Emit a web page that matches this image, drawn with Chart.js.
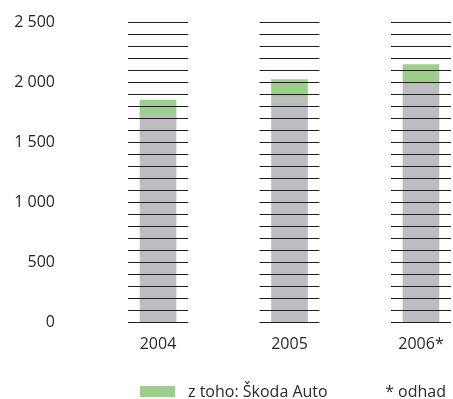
<!DOCTYPE html>
<html>
<head>
<meta charset="utf-8">
<script src="https://cdn.jsdelivr.net/npm/chart.js@4"></script>
<style>
  html, body { margin: 0; padding: 0; background: #fff; }
  #wrap { width: 453px; height: 399px; }
</style>
</head>
<body>
<div id="wrap"><canvas id="prodChart" width="453" height="399"></canvas></div>
<script>
// production data
const years = ["2004", "2005", "2006*"];
const otherProd = [1720, 1875, 1980];
const skodaProd = [130, 145, 165];
const yTicks = [0, 500, 1000, 1500, 2000, 2500];
const ruleStep = 100;
const noteText = "* odhad";

const fontFam = "'Open Sans', sans-serif";
const textCol = "#2b2a29";

// thin black rules across each column, every 100 units
const rulesPlugin = {
  id: "rules",
  afterDatasetsDraw(chart){
    const ctx = chart.ctx, x = chart.scales.x, y = chart.scales.y;
    ctx.save();
    ctx.strokeStyle = "#231f20";
    ctx.lineWidth = 1.2;
    years.forEach(function(lbl, i){
      const cx = x.getPixelForValue(i);
      for (let v = y.min; v <= y.max; v += ruleStep){
        const py = Math.round(y.getPixelForValue(v)) + 0.5;
        ctx.beginPath();
        ctx.moveTo(cx - 30, py);
        ctx.lineTo(cx + 30, py);
        ctx.stroke();
      }
    });
    ctx.restore();
  }
};

// legend row at the bottom
const legendPlugin = {
  id: "legendRow",
  afterDraw(chart){
    const ctx = chart.ctx;
    const ds = chart.data.datasets[1];
    ctx.save();
    ctx.fillStyle = ds.backgroundColor;
    ctx.fillRect(140, 386, 35, 11);
    ctx.fillStyle = textCol;
    ctx.font = "16px " + fontFam;
    ctx.textBaseline = "alphabetic";
    ctx.textAlign = "left";
    ctx.fillText(ds.label, 188, 397);
    ctx.textAlign = "right";
    ctx.fillText(noteText, 446, 397);
    ctx.restore();
  }
};

new Chart("prodChart", {
  type: "bar",
  data: {
    labels: years,
    datasets: [{
        label: "celkem",
        data: otherProd,
        backgroundColor: "#bcbdc0",
        barThickness: 36,
        clip: false
    }, {
        label: "z toho: Škoda Auto",
        data: skodaProd,
        backgroundColor: "#9bcf8b",
        barThickness: 36,
        clip: false
    }]
  },
  options: {
    responsive: false,
    animation: false,
    devicePixelRatio: 1,
    layout: {padding: {top: 22, right: 32, left: 0, bottom: 0}},
    plugins: {
      legend: {display: false},
      tooltip: {enabled: false}
    },
    scales: {
      x: {
        stacked: true,
        offset: false,
        grid: {display: false},
        border: {display: false},
        ticks: {
          padding: 5,
          color: textCol,
          font: {family: fontFam, size: 16}
        },
        afterFit(scale){ scale.height = 77; }
      },
      y: {
        stacked: true,
        min: 0,
        max: 2500,
        grid: {display: false, drawTicks: false},
        border: {display: false},
        afterBuildTicks(scale){ scale.ticks = yTicks.map(v => ({value: v})); },
        ticks: {
          padding: 103,
          color: textCol,
          font: {family: fontFam, size: 16},
          callback: v => v.toString().replace(/\B(?=(\d{3})+(?!\d))/g, " ")
        },
        // wide axis box so the first column sits well right of the labels
        afterFit(scale){
          scale.width = 158;
          scale.paddingTop = 10;
          scale.paddingBottom = 10;
        }
      }
    }
  },
  plugins: [rulesPlugin, legendPlugin]
});
</script>
</body>
</html>
